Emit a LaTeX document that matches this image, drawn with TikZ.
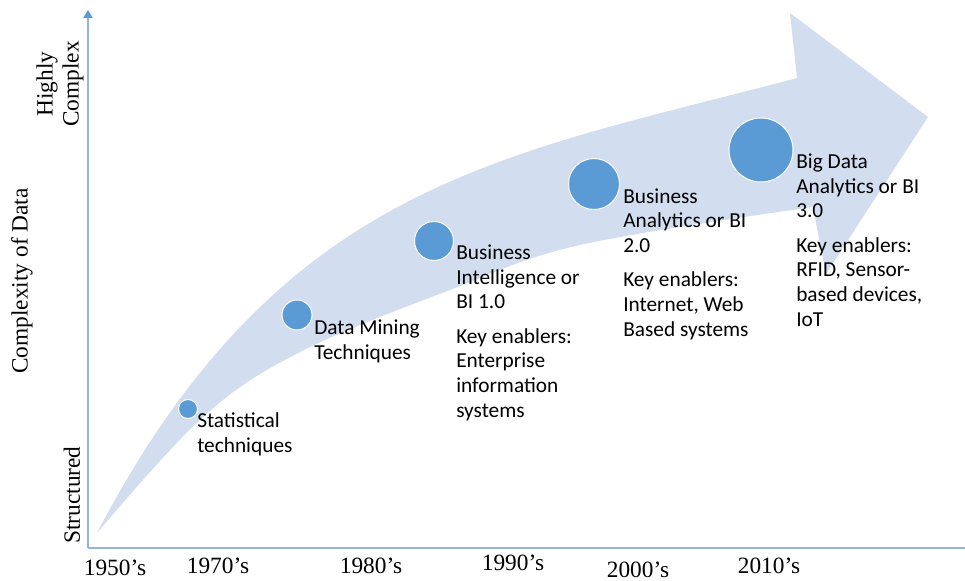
\documentclass[tikz,border=0pt]{standalone}
\usepackage{fontspec}
\setmainfont{Liberation Serif}
\newfontfamily\lblfont{Carlito}
\usetikzlibrary{arrows.meta}
\definecolor{band}{RGB}{210,222,239}
\definecolor{dot}{RGB}{91,155,213}
\definecolor{axisc}{RGB}{150,180,215}
\begin{document}
\begin{tikzpicture}[x=0.75pt,y=-0.75pt,
  lbl/.style={font=\lblfont\fontsize{16}{18.4}\selectfont, align=left, anchor=base west, inner sep=0pt},
  yr/.style={font=\fontsize{17.5}{20}\selectfont, anchor=base, inner sep=0pt},
  ylab/.style={font=\fontsize{17.5}{19.5}\selectfont, rotate=90, align=center, inner sep=0pt},
  dotc/.style={circle, fill=dot, draw=white, line width=0.75pt, inner sep=0pt, minimum size=#1}]
\useasboundingbox (0,0) rectangle (965,581);
% big arrow
\fill[band] (97,533) .. controls (281,181) and (503,156) .. (797,78)
  -- (790,13) -- (928,117) -- (826,274) -- (813,207)
  -- plot[smooth, tension=0.6] coordinates {(813,207) (580,245) (450,290) (300,352) (203,417) (97,533)} -- cycle;
% axes
\coordinate (o) at (88,548);
\coordinate (ytop) at (88,10);
\coordinate (xend) at (965,548);
\draw[axisc, line width=1.1pt, -{Triangle[length=6pt,width=7pt,fill=dot,color=dot]}] (o) -- (ytop);
\draw[axisc, line width=1.1pt] (o) -- (xend);
% circles
\node[dotc=14.25pt] (c1) at (188,409) {};
\node[dotc=22.5pt] (c2) at (297,315) {};
\node[dotc=29.25pt] (c3) at (434,241) {};
\node[dotc=38.25pt] (c4) at (594,184) {};
\node[dotc=48pt] (c5) at (761,150) {};
% labels (anchor at baseline of last line)
\node[lbl] (t1) at (197,452) {Statistical\\techniques};
\node[lbl] (t2) at (314,359) {Data Mining\\Techniques};
\node[lbl] (t3) at (456,417) {Business\\Intelligence or\\BI 1.0\\[7.5pt]Key enablers:\\Enterprise\\information\\systems};
\node[lbl] (t4) at (623,336) {Business\\Analytics or BI\\2.0\\[7.5pt]Key enablers:\\Internet, Web\\Based systems};
\node[lbl] (t5) at (796,326) {Big Data\\Analytics or BI\\3.0\\[7.5pt]Key enablers:\\RFID, Sensor-\\based devices,\\IoT};
% years
\node[yr] (y1) at (115,575) {1950’s};
\node[yr] (y2) at (218,573) {1970’s};
\node[yr] (y3) at (371,573) {1980’s};
\node[yr] (y4) at (513,570) {1990’s};
\node[yr] (y5) at (638,577) {2000’s};
\node[yr] (y6) at (769,573) {2010’s};
% axis labels
\node[ylab] (l1) at (22,281) {Complexity of Data};
\node[ylab] (l2) at (60,84) {Highly\\Complex};
\node[ylab] (l3) at (72,495) {Structured};
\end{tikzpicture}
\end{document}
